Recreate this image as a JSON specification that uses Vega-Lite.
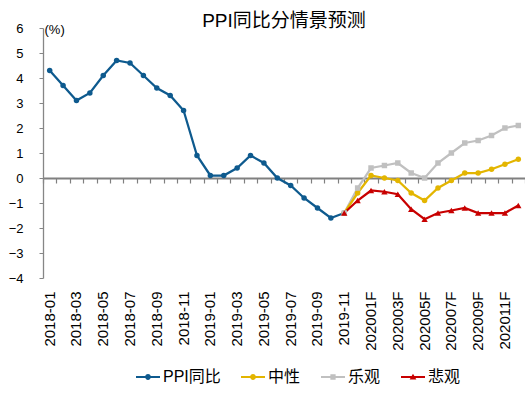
{
  "$schema": "https://vega.github.io/schema/vega-lite/v6.json",
  "autosize": {"type": "none"},
  "width": 482,
  "height": 250,
  "padding": {"left": 43, "top": 28, "right": 0, "bottom": 119},
  "background": "white",
  "config": {
    "font": "'Liberation Sans', 'Noto Sans CJK SC', sans-serif",
    "view": {"stroke": null},
    "axis": {"grid": false, "labelColor": "#000000", "labelFont": "'Liberation Sans', 'Noto Sans CJK SC', sans-serif"},
    "legend": {"labelFont": "'Liberation Sans', 'Noto Sans CJK SC', sans-serif"}
  },
  "title": {
    "text": "PPI同比分情景预测",
    "fontSize": 19,
    "fontWeight": "normal",
    "color": "#000000",
    "anchor": "middle",
    "frame": "group",
    "offset": -9,
    "font": "'Liberation Sans', 'Noto Sans CJK SC', sans-serif"
  },
  "data": {
    "values": [
      {"m": "2018-01", "s": "PPI同比", "v": 4.3},
      {"m": "2018-02", "s": "PPI同比", "v": 3.7},
      {"m": "2018-03", "s": "PPI同比", "v": 3.1},
      {"m": "2018-04", "s": "PPI同比", "v": 3.4},
      {"m": "2018-05", "s": "PPI同比", "v": 4.1},
      {"m": "2018-06", "s": "PPI同比", "v": 4.7},
      {"m": "2018-07", "s": "PPI同比", "v": 4.6},
      {"m": "2018-08", "s": "PPI同比", "v": 4.1},
      {"m": "2018-09", "s": "PPI同比", "v": 3.6},
      {"m": "2018-10", "s": "PPI同比", "v": 3.3},
      {"m": "2018-11", "s": "PPI同比", "v": 2.7},
      {"m": "2018-12", "s": "PPI同比", "v": 0.9},
      {"m": "2019-01", "s": "PPI同比", "v": 0.1},
      {"m": "2019-02", "s": "PPI同比", "v": 0.1},
      {"m": "2019-03", "s": "PPI同比", "v": 0.4},
      {"m": "2019-04", "s": "PPI同比", "v": 0.9},
      {"m": "2019-05", "s": "PPI同比", "v": 0.6},
      {"m": "2019-06", "s": "PPI同比", "v": 0.0},
      {"m": "2019-07", "s": "PPI同比", "v": -0.3},
      {"m": "2019-08", "s": "PPI同比", "v": -0.8},
      {"m": "2019-09", "s": "PPI同比", "v": -1.2},
      {"m": "2019-10", "s": "PPI同比", "v": -1.6},
      {"m": "2019-11", "s": "PPI同比", "v": -1.4},
      {"m": "2019-11", "s": "乐观", "v": -1.4},
      {"m": "201912F", "s": "乐观", "v": -0.4},
      {"m": "202001F", "s": "乐观", "v": 0.4},
      {"m": "202002F", "s": "乐观", "v": 0.5},
      {"m": "202003F", "s": "乐观", "v": 0.6},
      {"m": "202004F", "s": "乐观", "v": 0.2},
      {"m": "202005F", "s": "乐观", "v": 0.0},
      {"m": "202006F", "s": "乐观", "v": 0.6},
      {"m": "202007F", "s": "乐观", "v": 1.0},
      {"m": "202008F", "s": "乐观", "v": 1.4},
      {"m": "202009F", "s": "乐观", "v": 1.5},
      {"m": "202010F", "s": "乐观", "v": 1.7},
      {"m": "202011F", "s": "乐观", "v": 2.0},
      {"m": "202012F", "s": "乐观", "v": 2.1},
      {"m": "2019-11", "s": "中性", "v": -1.4},
      {"m": "201912F", "s": "中性", "v": -0.6},
      {"m": "202001F", "s": "中性", "v": 0.1},
      {"m": "202002F", "s": "中性", "v": 0.0},
      {"m": "202003F", "s": "中性", "v": -0.1},
      {"m": "202004F", "s": "中性", "v": -0.6},
      {"m": "202005F", "s": "中性", "v": -0.9},
      {"m": "202006F", "s": "中性", "v": -0.4},
      {"m": "202007F", "s": "中性", "v": -0.1},
      {"m": "202008F", "s": "中性", "v": 0.2},
      {"m": "202009F", "s": "中性", "v": 0.2},
      {"m": "202010F", "s": "中性", "v": 0.35},
      {"m": "202011F", "s": "中性", "v": 0.55},
      {"m": "202012F", "s": "中性", "v": 0.75},
      {"m": "2019-11", "s": "悲观", "v": -1.4},
      {"m": "201912F", "s": "悲观", "v": -0.9},
      {"m": "202001F", "s": "悲观", "v": -0.5},
      {"m": "202002F", "s": "悲观", "v": -0.55},
      {"m": "202003F", "s": "悲观", "v": -0.65},
      {"m": "202004F", "s": "悲观", "v": -1.25},
      {"m": "202005F", "s": "悲观", "v": -1.65},
      {"m": "202006F", "s": "悲观", "v": -1.4},
      {"m": "202007F", "s": "悲观", "v": -1.3},
      {"m": "202008F", "s": "悲观", "v": -1.2},
      {"m": "202009F", "s": "悲观", "v": -1.4},
      {"m": "202010F", "s": "悲观", "v": -1.4},
      {"m": "202011F", "s": "悲观", "v": -1.4},
      {"m": "202012F", "s": "悲观", "v": -1.1}
    ]
  },
  "encoding": {
    "y": {
      "field": "v", "type": "quantitative",
      "scale": {"domain": [-4, 6], "nice": false, "zero": false},
      "axis": {"values": [-4,-3,-2,-1,0,1,2,3,4,5,6], "tickCount": 11, "labelOverlap": false, "tickSize": 4, "tickColor": "#868686", "domainColor": "#868686", "domainWidth": 1.3, "labelFontSize": 13, "labelPadding": 16,
        "title": "(%)", "titleAngle": 0, "titleX": 1, "titleY": 1, "titleAlign": "left", "titleBaseline": "middle", "titleFontSize": 13, "titleFontWeight": "normal", "titleColor": "#000000"}
    }
  },
  "layer": [
    {
      "mark": {"type": "line", "strokeWidth": 2.25},
      "encoding": {
        "x": {
          "field": "m", "type": "ordinal", "bandPosition": 0.5,
          "scale": {"type": "band", "paddingInner": 0, "paddingOuter": 0,
            "domain": ["2018-01","2018-02","2018-03","2018-04","2018-05","2018-06","2018-07","2018-08","2018-09","2018-10","2018-11","2018-12","2019-01","2019-02","2019-03","2019-04","2019-05","2019-06","2019-07","2019-08","2019-09","2019-10","2019-11","201912F","202001F","202002F","202003F","202004F","202005F","202006F","202007F","202008F","202009F","202010F","202011F","202012F"]},
          "axis": {"orient": "bottom", "offset": -100, "labels": false, "title": null, "tickBand": "extent", "tickSize": 5, "tickColor": "#808080", "tickWidth": 1.2, "domainColor": "#808080", "domainWidth": 2}
        },
        "color": {"field": "s", "type": "nominal",
          "scale": {"domain": ["PPI同比","中性","乐观","悲观"], "range": ["#0E5A8E","#E3B500","#C0C0C0","#C80000"]}},
        "order": {"field": "m"}
      }
    },
    {
      "transform": [{"filter": "datum.s === 'PPI同比' || datum.s === '中性'"}],
      "mark": {"type": "point", "shape": "circle", "filled": true, "opacity": 1, "size": 30},
      "encoding": {
        "x": {"field": "m", "type": "ordinal", "bandPosition": 0.5,
          "axis": {"orient": "bottom", "title": null, "ticks": false, "domain": false, "labelAngle": -90, "labelFontSize": 15, "labelPadding": 13,
            "values": ["2018-01","2018-03","2018-05","2018-07","2018-09","2018-11","2019-01","2019-03","2019-05","2019-07","2019-09","2019-11","202001F","202003F","202005F","202007F","202009F","202011F"]}},
        "color": {"field": "s", "type": "nominal"}
      }
    },
    {
      "transform": [{"filter": "datum.s === '乐观'"}],
      "mark": {"type": "point", "shape": "square", "filled": true, "opacity": 1, "size": 30},
      "encoding": {
        "x": {"field": "m", "type": "ordinal", "bandPosition": 0.5, "axis": null},
        "color": {"field": "s", "type": "nominal"}
      }
    },
    {
      "transform": [{"filter": "datum.s === '悲观'"}],
      "mark": {"type": "point", "shape": "triangle-up", "filled": true, "opacity": 1, "size": 40},
      "encoding": {
        "x": {"field": "m", "type": "ordinal", "bandPosition": 0.5, "axis": null},
        "color": {"field": "s", "type": "nominal"}
      }
    },
    {
      "mark": {"type": "point", "filled": true, "opacity": 0},
      "encoding": {
        "x": {"field": "m", "type": "ordinal", "bandPosition": 0.5, "axis": null},
        "color": {"field": "s", "type": "nominal",
          "legend": {"orient": "none", "legendX": 93, "legendY": 337, "direction": "horizontal", "title": null, "symbolSize": 576, "labelFontSize": 16, "labelOffset": 3, "columnPadding": 20, "symbolOpacity": 1, "symbolStrokeWidth": 0, "labelColor": "#000000",
            "encode": {"symbols": {"update": {"opacity": {"value": 1}, "strokeWidth": {"value": 0}}}}}},
        "shape": {"field": "s", "type": "nominal",
          "scale": {"domain": ["PPI同比","中性","乐观","悲观"],
            "range": [
              "M-1,-0.09H1V0.09H-1Z M-0.24,0A0.24,0.24 0 1,1 0.24,0A0.24,0.24 0 1,1 -0.24,0Z",
              "M-1,-0.09H1V0.09H-1Z M-0.24,0A0.24,0.24 0 1,1 0.24,0A0.24,0.24 0 1,1 -0.24,0Z",
              "M-1,-0.09H1V0.09H-1Z M-0.22,-0.22H0.22V0.22H-0.22Z",
              "M-1,-0.09H1V0.09H-1Z M0,-0.28L0.28,0.2H-0.28Z"
            ]},
          "legend": {"orient": "none", "legendX": 93, "legendY": 337, "direction": "horizontal", "title": null, "symbolSize": 576, "labelFontSize": 16, "labelOffset": 3, "columnPadding": 20, "symbolOpacity": 1, "symbolStrokeWidth": 0, "labelColor": "#000000",
            "encode": {"symbols": {"update": {"opacity": {"value": 1}, "strokeWidth": {"value": 0}}}}}}
      }
    }
  ],
  "resolve": {"axis": {"x": "independent"}}
}
